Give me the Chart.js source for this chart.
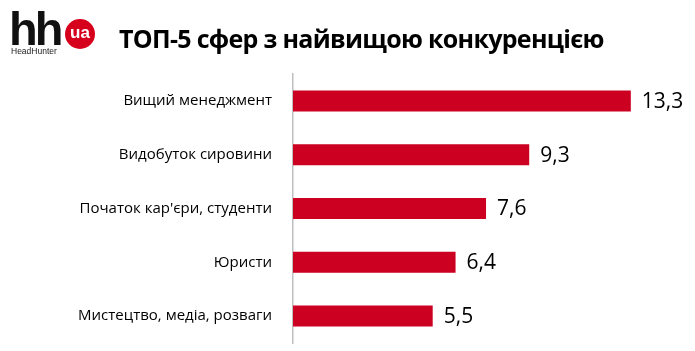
<!DOCTYPE html>
<html>
<head>
<meta charset="utf-8">
<script src="https://cdn.jsdelivr.net/npm/chart.js@4"></script>
<style>
  body { margin: 0; background: #fff; }
  #wrap { position: relative; width: 695px; height: 351px; }
  #logo-hh { position: absolute; left: 9px; top: 1px; font: bold 47px "Liberation Sans", Arial, sans-serif; letter-spacing: -3px; color: #111; }
  #logo-ua { position: absolute; left: 65px; top: 19px; width: 30px; height: 30px; border-radius: 50%; background: #d6001c; color: #fff; font: bold 17px "Liberation Sans", Arial, sans-serif; text-align: center; line-height: 27px; }
  #logo-sub { position: absolute; left: 11px; top: 46px; font: 8.5px "Liberation Sans", Arial, sans-serif; color: #222; }
  #title { position: absolute; left: 119px; top: 21px; font: bold 25px "Open Sans", sans-serif; color: #000; white-space: nowrap; letter-spacing: -0.7px; }
  canvas { position: absolute; left: 0; top: 0; }
</style>
</head>
<body>
<div id="wrap">
  <canvas id="myChart" width="695" height="351"></canvas>
  <div id="logo-hh">hh</div>
  <div id="logo-ua">ua</div>
  <div id="logo-sub">HeadHunter</div>
  <div id="title">ТОП-5 сфер з найвищою конкуренцією</div>
</div>
<script>
// топ-5 сфер
const labels = ["Вищий менеджмент", "Видобуток сировини", "Початок кар'єри, студенти", "Юристи", "Мистецтво, медіа, розваги"];
const values = [13.3, 9.3, 7.6, 6.4, 5.5];

const valueLabels = {
    id: "valueLabels",
    afterDatasetsDraw(chart) {
        const ctx = chart.ctx;
        ctx.save();
        ctx.font = "21px 'Open Sans', sans-serif";
        ctx.fillStyle = "#000";
        ctx.textBaseline = "middle";
        chart.getDatasetMeta(0).data.forEach((bar, i) => {
            ctx.fillText(values[i].toFixed(1).replace(".", ","), bar.x + 11, bar.y + 1);
        });
        ctx.restore();
    }
};

new Chart(document.getElementById("myChart"), {
    type: "bar",
    data: {
        labels: labels,
        datasets: [{
            data: values,
            backgroundColor: "#cc0020",
            barPercentage: 0.78,
            categoryPercentage: 0.5
        }]
    },
    options: {
        indexAxis: "y",
        responsive: false,
        animation: false,
        layout: { padding: { top: 74, right: 21, bottom: 8, left: 0 } },
        plugins: { legend: { display: false }, tooltip: { enabled: false } },
        scales: {
            x: { display: false, min: 0, max: 15 },
            y: {
                grid: { display: false },
                border: { color: "#bfbfbf", width: 1.5 },
                ticks: { color: "#000", padding: 13, font: { family: "Open Sans", size: 15 } },
                afterFit(scale) {
                    scale.width = 293;
                    scale.paddingTop = 0;
                    scale.paddingBottom = 0;
                }
            }
        }
    },
    plugins: [valueLabels]
});
</script>
</body>
</html>
